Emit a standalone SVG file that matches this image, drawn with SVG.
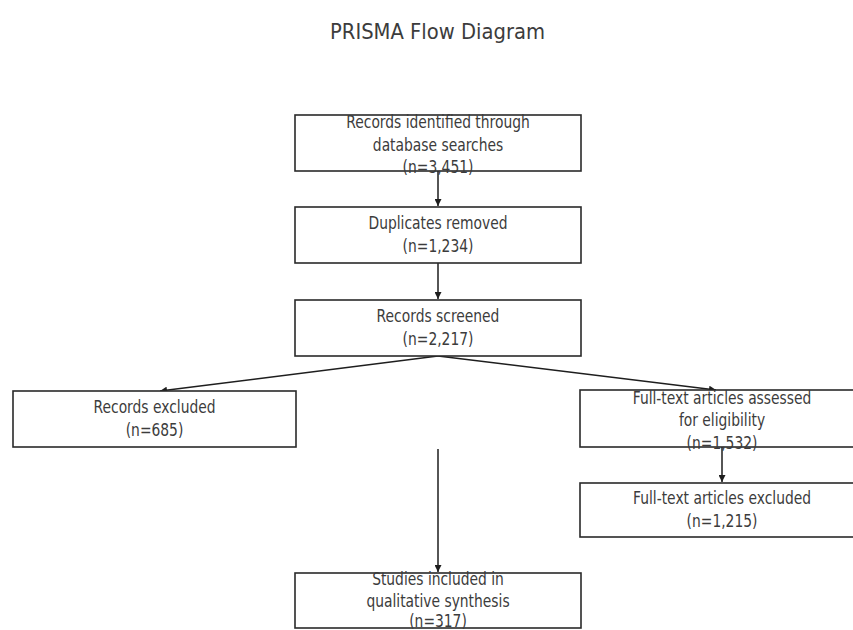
<svg xmlns="http://www.w3.org/2000/svg" width="853" height="630" viewBox="0 0 853 630">
  <style>
    .box { fill: #ffffff; stroke: #2a2a2a; stroke-width: 1.6; }
    .lbl { font-family: "DejaVu Sans", "Liberation Sans", sans-serif; font-size: 18px; fill: #3c3c3c; text-anchor: middle; }
    .title { font-family: "DejaVu Sans", "Liberation Sans", sans-serif; font-size: 20.5px; fill: #3c3c3c; text-anchor: middle; }
    .conn { stroke: #1e1e1e; stroke-width: 1.5; fill: none; marker-end: url(#head); }
  </style>
  <defs>
    <marker id="head" viewBox="0 0 10 10" refX="10" refY="5" markerWidth="7" markerHeight="7" markerUnits="userSpaceOnUse" orient="auto">
      <path d="M0,0 L10,5 L0,10 z" fill="#1e1e1e"/>
    </marker>
  </defs>
  <rect width="853" height="630" fill="#ffffff"/>

  <text class="title" x="437.5" y="39" textLength="215" lengthAdjust="spacingAndGlyphs">PRISMA Flow Diagram</text>

  <!-- arrows between the stages -->
  <g id="connectors">
    <line class="conn" x1="438" y1="171" x2="438" y2="206"/>
    <line class="conn" x1="438" y1="263" x2="438" y2="299"/>
    <line class="conn" x1="438" y1="356" x2="160" y2="391"/>
    <line class="conn" x1="438" y1="356" x2="716" y2="390"/>
    <line class="conn" x1="722" y1="447" x2="722" y2="482"/>
    <line class="conn" x1="438" y1="449" x2="438" y2="572"/>
  </g>

  <g id="identified">
    <rect class="box" x="295" y="115" width="286" height="56"/>
    <text class="lbl" transform="translate(438,128) scale(0.77,1)">Records identified through</text>
    <text class="lbl" transform="translate(438,150.5) scale(0.77,1)">database searches</text>
    <text class="lbl" transform="translate(438,173) scale(0.77,1)">(n=3,451)</text>
  </g>

  <g id="duplicates">
    <rect class="box" x="295" y="207" width="286" height="56"/>
    <text class="lbl" transform="translate(438,229) scale(0.77,1)">Duplicates removed</text>
    <text class="lbl" transform="translate(438,252) scale(0.77,1)">(n=1,234)</text>
  </g>

  <g id="screened">
    <rect class="box" x="295" y="300" width="286" height="56"/>
    <text class="lbl" transform="translate(438,322) scale(0.77,1)">Records screened</text>
    <text class="lbl" transform="translate(438,345) scale(0.77,1)">(n=2,217)</text>
  </g>

  <g id="excluded">
    <rect class="box" x="13" y="391" width="283" height="56"/>
    <text class="lbl" transform="translate(154.5,413) scale(0.77,1)">Records excluded</text>
    <text class="lbl" transform="translate(154.5,436) scale(0.77,1)">(n=685)</text>
  </g>

  <g id="assessed">
    <rect class="box" x="580" y="390" width="286" height="57"/>
    <text class="lbl" transform="translate(722,403.5) scale(0.77,1)">Full-text articles assessed</text>
    <text class="lbl" transform="translate(722,426) scale(0.77,1)">for eligibility</text>
    <text class="lbl" transform="translate(722,448.5) scale(0.77,1)">(n=1,532)</text>
  </g>

  <g id="fulltext-excluded">
    <rect class="box" x="580" y="483" width="286" height="54"/>
    <text class="lbl" transform="translate(722,504) scale(0.77,1)">Full-text articles excluded</text>
    <text class="lbl" transform="translate(722,527) scale(0.77,1)">(n=1,215)</text>
  </g>

  <g id="included">
    <rect class="box" x="295" y="573" width="286" height="55"/>
    <text class="lbl" transform="translate(438,585) scale(0.77,1)">Studies included in</text>
    <text class="lbl" transform="translate(438,606.5) scale(0.77,1)">qualitative synthesis</text>
    <text class="lbl" transform="translate(438,626.5) scale(0.77,1)">(n=317)</text>
  </g>
</svg>
